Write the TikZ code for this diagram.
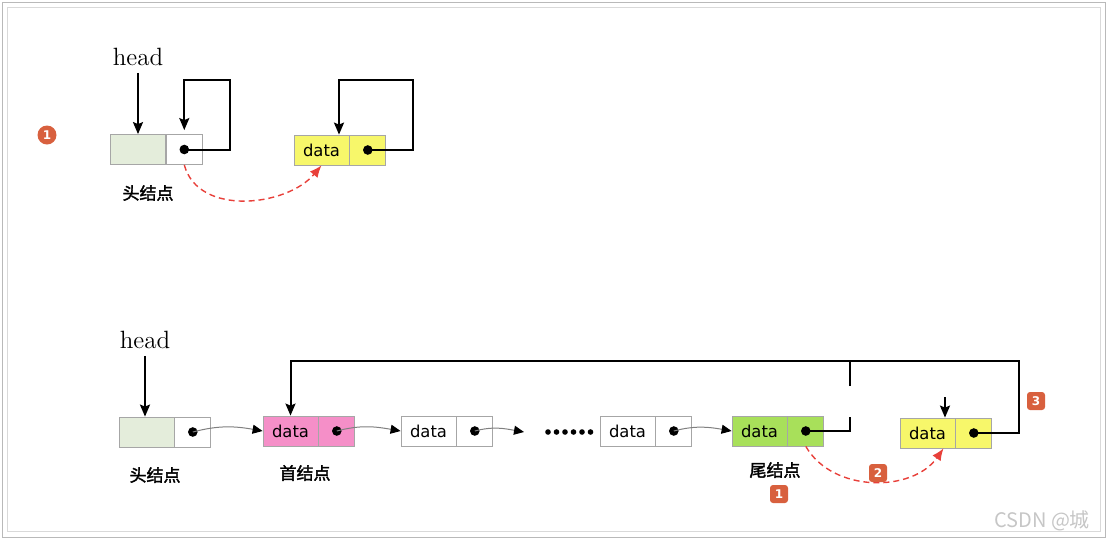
\documentclass[tikz,border=0pt]{standalone}
\usepackage{fontspec}
\newfontfamily\dejavu{DejaVu Sans}
\newfontfamily\cjk{Noto Sans CJK SC}
\newfontfamily\cjkb[FakeBold=2]{Noto Sans CJK SC}
\usetikzlibrary{arrows.meta,positioning}
\definecolor{headgreen}{HTML}{E4EDDB}
\definecolor{nodeyellow}{HTML}{F7F76A}
\definecolor{nodepink}{HTML}{F58FC8}
\definecolor{nodegreen}{HTML}{A8E05A}
\definecolor{badge}{HTML}{D8603E}
\definecolor{newred}{HTML}{E8403A}
\begin{document}
\begin{tikzpicture}[x=0.5pt,y=-0.5pt,
  cell/.style={draw=gray!70,minimum height=15pt,inner sep=0pt,font=\dejavu\fontsize{8.2}{9}\selectfont},
  datacell/.style={cell,minimum width=27.5pt},
  ptrcell/.style={cell,minimum width=18pt},
  headtext/.style={font=\fontsize{12.5}{14}\selectfont},
  cjklabel/.style={font=\cjkb\fontsize{8.5}{10}\selectfont},
  link/.style={draw,line width=1pt},
  ptr/.style={link,-{Stealth[length=6pt,width=5pt,inset=1pt]}},
  next/.style={draw=gray,line width=0.5pt,-{Triangle[length=5pt,width=4.5pt,color=black]}},
  change/.style={draw=newred,line width=0.7pt,dash pattern=on 3pt off 2pt,-{Latex[length=6pt,width=5pt]}},
  badgecircle/.style={circle,fill=badge,text=white,inner sep=0pt,minimum size=9.5pt,font=\dejavu\bfseries\fontsize{6}{7}\selectfont},
  badgebox/.style={rectangle,rounded corners=1.5pt,fill=badge,text=white,inner sep=0pt,minimum size=9pt,font=\dejavu\bfseries\fontsize{6}{7}\selectfont}]
\useasboundingbox (0,0) rectangle (1108,542);
\draw[gray!55] (2,2) rectangle (1105,537);
\draw[gray!30] (7,7) rectangle (1100,531);

\node[badgecircle] (b0) at (47,135) {1};
\node[headtext] (head1) at (138,57) {head};
\node[datacell,fill=headgreen] (hd1) at (138,149.5) {};
\node[ptrcell,right=0pt of hd1] (hp1) {};
\node[datacell,fill=nodeyellow] (yd1) at (321.5,150) {data};
\node[ptrcell,fill=nodeyellow,right=0pt of yd1] (yp1) {};
\node[cjklabel] (lab1) at (148,193) {头结点};
\coordinate (t1) at (230,80);
\coordinate (t2) at (413,80);
\fill (hp1.center) circle (2.4pt);
\fill (yp1.center) circle (2.4pt);
\path[ptr] (head1.south) -- (head1.south |- hd1.north);
\path[ptr] (hp1.center) -| (t1) -| ([yshift=2pt]hp1.north);
\path[ptr] (yp1.center) -| (t2) -| ([xshift=8.75pt]yd1.north);
\path[change] (hp1.south) to[out=-75,in=-130] (yd1.south);

\node[headtext] (head2) at (145,340) {head};
\node[datacell,fill=headgreen] (hd2) at (146.5,432) {};
\node[ptrcell,right=0pt of hd2] (hp2) {};
\node[datacell,fill=nodepink] (pd) at (290.5,431) {data};
\node[ptrcell,fill=nodepink,right=0pt of pd] (pp) {};
\node[datacell] (wd1) at (428.5,431) {data};
\node[ptrcell,right=0pt of wd1] (wp1) {};
\node[datacell] (wd2) at (627.5,431) {data};
\node[ptrcell,right=0pt of wd2] (wp2) {};
\node[datacell,fill=nodegreen] (gd) at (759.5,431) {data};
\node[ptrcell,fill=nodegreen,right=0pt of gd] (gp) {};
\node[datacell,fill=nodeyellow] (yd2) at (927.5,433) {data};
\node[ptrcell,fill=nodeyellow,right=0pt of yd2] (yp2) {};
\node[cjklabel] (lab2) at (155,475) {头结点};
\node[cjklabel] (lab3) at (305,473) {首结点};
\node[cjklabel] (lab4) at (775,470) {尾结点};
\node[badgebox] (b1) at (779,494) {1};
\node[badgebox] (b2) at (878,473) {2};
\node[badgebox] (b3) at (1036,401) {3};
\node[text=gray!45,font=\cjk\fontsize{10}{12}\selectfont,anchor=east] (mark) at (1097,521) {CSDN @城};

\coordinate (e1) at (524,432);
\coordinate (rail) at (850,361);
\coordinate (g1) at (850,386);
\coordinate (g2) at (850,417);
\coordinate (r3) at (1019,361);
\coordinate (new) at (945,397);
\foreach \i in {0,...,5} \fill (548+8.5*\i,432) circle (1.4pt);
\foreach \p in {hp2,pp,wp1,wp2,gp,yp2} \fill (\p.center) circle (2.4pt);
\path[ptr] (head2.south) -- (head2.south |- hd2.north);
\path[next] (hp2.center) to[out=15,in=170] (pd.west);
\path[next] (pp.center) to[out=15,in=170] (wd1.west);
\path[next] (wp1.center) to[out=15,in=170] (e1);
\path[next] (wp2.center) to[out=15,in=170] (gd.west);
\path[link] (gp.center) -| (g2);
\path[ptr] (g1) -- (rail) -| (pd.north);
\path[link] (yp2.center) -| (r3) -- (rail);
\path[ptr] (new) -- (new |- yd2.north);
\path[change] (gp.south) to[out=-60,in=-125] ([xshift=8pt]yd2.south);
\end{tikzpicture}
\end{document}
